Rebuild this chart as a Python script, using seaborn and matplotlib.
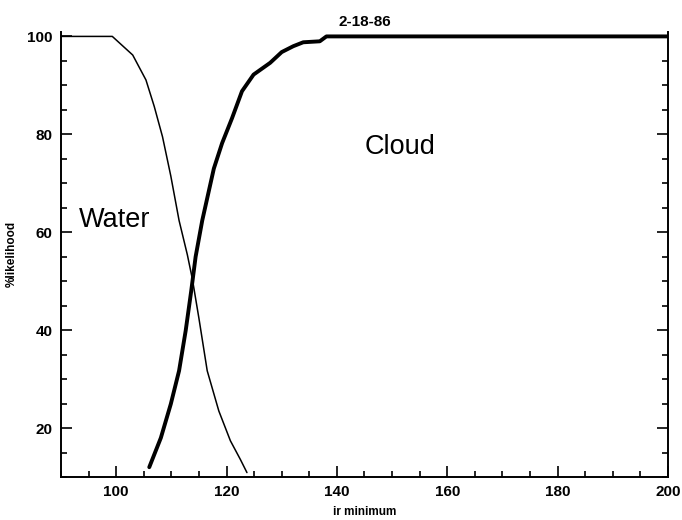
import matplotlib
matplotlib.use("Agg")
import matplotlib.pyplot as plt
from matplotlib.ticker import MultipleLocator
import seaborn as sns
import pandas as pd

# Probability curves versus minimum IR value (2-18-86)
water_x = [90, 99.3, 103.0, 105.4, 106.9, 108.4, 109.9, 111.4, 112.9, 113.8,
           115.0, 116.5, 118.6, 120.7, 122.5, 123.7]
water_y = [100, 100, 96.2, 91.1, 85.7, 79.5, 71.5, 62.4, 55.4, 50.5,
           42.4, 31.7, 23.5, 17.4, 13.6, 10.9]

cloud_x = [106.0, 108.1, 109.9, 111.4, 112.6, 113.6, 114.4, 115.6, 117.7, 119.2,
           121.0, 122.8, 124.9, 127.9, 130.0, 132.1, 133.9, 136.9, 138.1, 200]
cloud_y = [12.0, 18.0, 24.9, 31.7, 39.9, 48.0, 55.0, 62.4, 73.0, 78.2,
           83.3, 88.8, 92.2, 94.6, 96.8, 98.0, 98.8, 99.0, 100, 100]

x_ticks = [100, 120, 140, 160, 180, 200]
y_ticks = [20, 40, 60, 80, 100]

water = pd.DataFrame({"ir": water_x, "pct": water_y})
cloud = pd.DataFrame({"ir": cloud_x, "pct": cloud_y})

sns.set_style("ticks")
plt.rcParams["font.family"] = ["Liberation Sans", "DejaVu Sans"]
plt.rcParams["text.color"] = "black"
plt.rcParams["axes.labelcolor"] = "black"
plt.rcParams["xtick.color"] = "black"
plt.rcParams["ytick.color"] = "black"

fig = plt.figure(figsize=(6.82, 5.2), dpi=100)
ax = fig.add_axes([0.0894, 0.0827, 0.8901, 0.8567])

sns.lineplot(data=water, x="ir", y="pct", ax=ax, color="black", linewidth=1.1,
             sort=False, estimator=None)
sns.lineplot(data=cloud, x="ir", y="pct", ax=ax, color="black", linewidth=2.8,
             sort=False, estimator=None)

ax.set_xlim(90, 200)
ax.set_ylim(10, 101)
ax.set_xticks(x_ticks)
ax.set_yticks(y_ticks)
ax.xaxis.set_minor_locator(MultipleLocator(5))
ax.yaxis.set_minor_locator(MultipleLocator(5))
ax.tick_params(which="both", direction="in", top=False, right=True,
               width=1.2, color="black")
ax.tick_params(which="major", length=8, labelsize=11, pad=6, labelcolor="black")
ax.tick_params(which="minor", length=4)
for lab in ax.get_xticklabels() + ax.get_yticklabels():
    lab.set_fontweight("bold")

for side in ["left", "right", "bottom"]:
    ax.spines[side].set_visible(True)
    ax.spines[side].set_linewidth(1.4)
    ax.spines[side].set_color("black")
ax.spines["top"].set_visible(False)

ax.set_xlabel("ir minimum", fontsize=8.5, fontweight="bold", labelpad=5, color="black")
ax.set_ylabel("%likelihood", fontsize=8.5, fontweight="bold", color="black")
ax.yaxis.set_label_coords(-0.072, 0.5)
ax.set_title("2-18-86", fontsize=11, fontweight="bold", pad=4, color="black")

ax.text(93.2, 62.4, "Water", fontsize=19.5, va="center", ha="left", color="black")
ax.text(145.0, 77.4, "Cloud", fontsize=19.5, va="center", ha="left", color="black")

fig.savefig("out.png", dpi=100, facecolor="white")
